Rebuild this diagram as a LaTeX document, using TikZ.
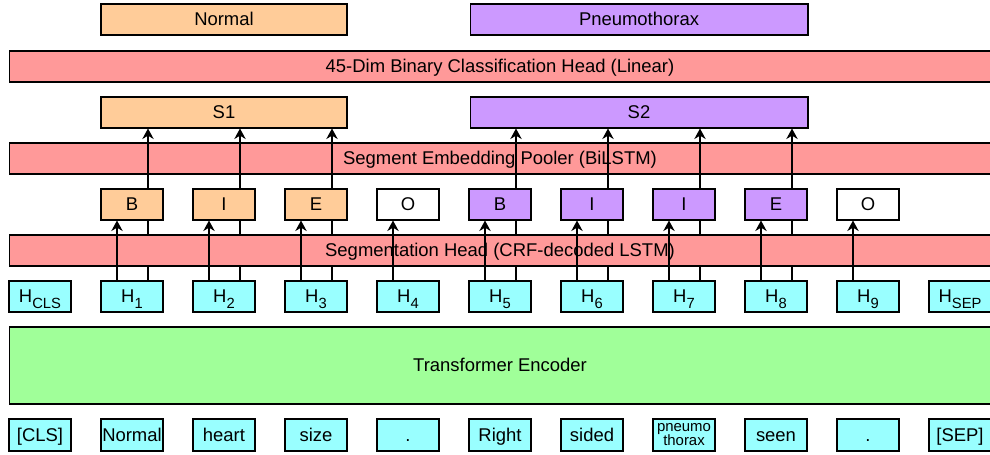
\documentclass[tikz,border=0pt]{standalone}
\usepackage{fontspec}
\setmainfont{Liberation Sans}
\usetikzlibrary{arrows.meta}
\definecolor{segOrange}{HTML}{FFCC99}
\definecolor{segPurple}{HTML}{CC99FF}
\definecolor{headRed}{HTML}{FF9999}
\definecolor{hidCyan}{HTML}{99FFFF}
\definecolor{encGreen}{HTML}{A0FF99}
\newcommand{\hsub}[1]{H\raisebox{-0.6ex}{\fontsize{8.4}{8}\selectfont #1}}
\begin{document}
\begin{tikzpicture}[x=0.02cm,y=-0.02cm,font=\fontsize{10.5}{12}\selectfont,
  box/.style={draw,line width=0.6pt,inner sep=0pt,text height=1.6ex,text depth=0.3ex,
    minimum width=1.24cm,minimum height=0.62cm},
  bar/.style={box,fill=headRed,minimum width=19.64cm},
  arr/.style={line width=0.6pt,-{Stealth[length=6pt,width=6.5pt]}}]
\useasboundingbox (0,0) rectangle (990,455);
% labels and classification head
\node[box,fill=segOrange,minimum width=4.92cm] (nodeN) at (224,19.5) {Normal};
\node[box,fill=segPurple,minimum width=6.76cm] (nodeP) at (639,19.5) {Pneumothorax};
\node[bar] (nodeCls) at (500,66.5) {45-Dim Binary Classification Head (Linear)};
\node[box,fill=segOrange,minimum width=4.92cm] (nodeS1) at (224,112.5) {S1};
\node[box,fill=segPurple,minimum width=6.76cm] (nodeS2) at (639,112.5) {S2};
\node[bar] (nodePool) at (500,158.5) {Segment Embedding Pooler (BiLSTM)};
% hidden states
\foreach \i/\t in {0/CLS,1/1,2/2,3/3,4/4,5/5,6/6,7/7,8/8,9/9,10/SEP}
  \node[box,fill=hidCyan] (nodeH\i) at (40+92*\i,296.5) {\hsub{\t}};
% segment tokens go to the pooler
\foreach \i in {1,2,3}
  \draw[arr] ([xshift=0.32cm]nodeH\i.north) -- ([xshift=0.32cm]nodeH\i.north |- nodeS1.south);
\foreach \i in {5,...,8}
  \draw[arr] ([xshift=0.32cm]nodeH\i.north) -- ([xshift=0.32cm]nodeH\i.north |- nodeS2.south);
% BIO tagging
\node[bar] (nodeSeg) at (500,250.5) {Segmentation Head (CRF-decoded LSTM)};
\foreach \i/\t/\c in {1/B/segOrange,2/I/segOrange,3/E/segOrange,4/O/white,5/B/segPurple,
    6/I/segPurple,7/I/segPurple,8/E/segPurple,9/O/white}
  \node[box,fill=\c] (nodeT\i) at (40+92*\i,204.5) {\t};
\foreach \i in {1,...,9}
  \draw[arr] ([xshift=-0.3cm]nodeH\i.north) -- ([xshift=-0.3cm]nodeT\i.south);
% encoder and input words
\node[box,fill=encGreen,minimum width=19.64cm,minimum height=1.54cm] (nodeEnc) at (500,365.5) {Transformer Encoder};
\foreach \i/\w in {0/{[CLS]},1/Normal,2/heart,3/size,4/.,5/Right,6/sided,8/seen,9/.,10/{[SEP]}}
  \node[box,fill=hidCyan,minimum height=0.64cm] (nodeW\i) at (40+92*\i,435) {\w};
\node[draw,line width=0.6pt,inner sep=0pt,fill=hidCyan,minimum width=1.24cm,minimum height=0.64cm,
  align=center,font=\fontsize{8.5}{8}\selectfont] (nodeW7) at (684,435) {pneumo\\thorax};
\end{tikzpicture}
\end{document}
